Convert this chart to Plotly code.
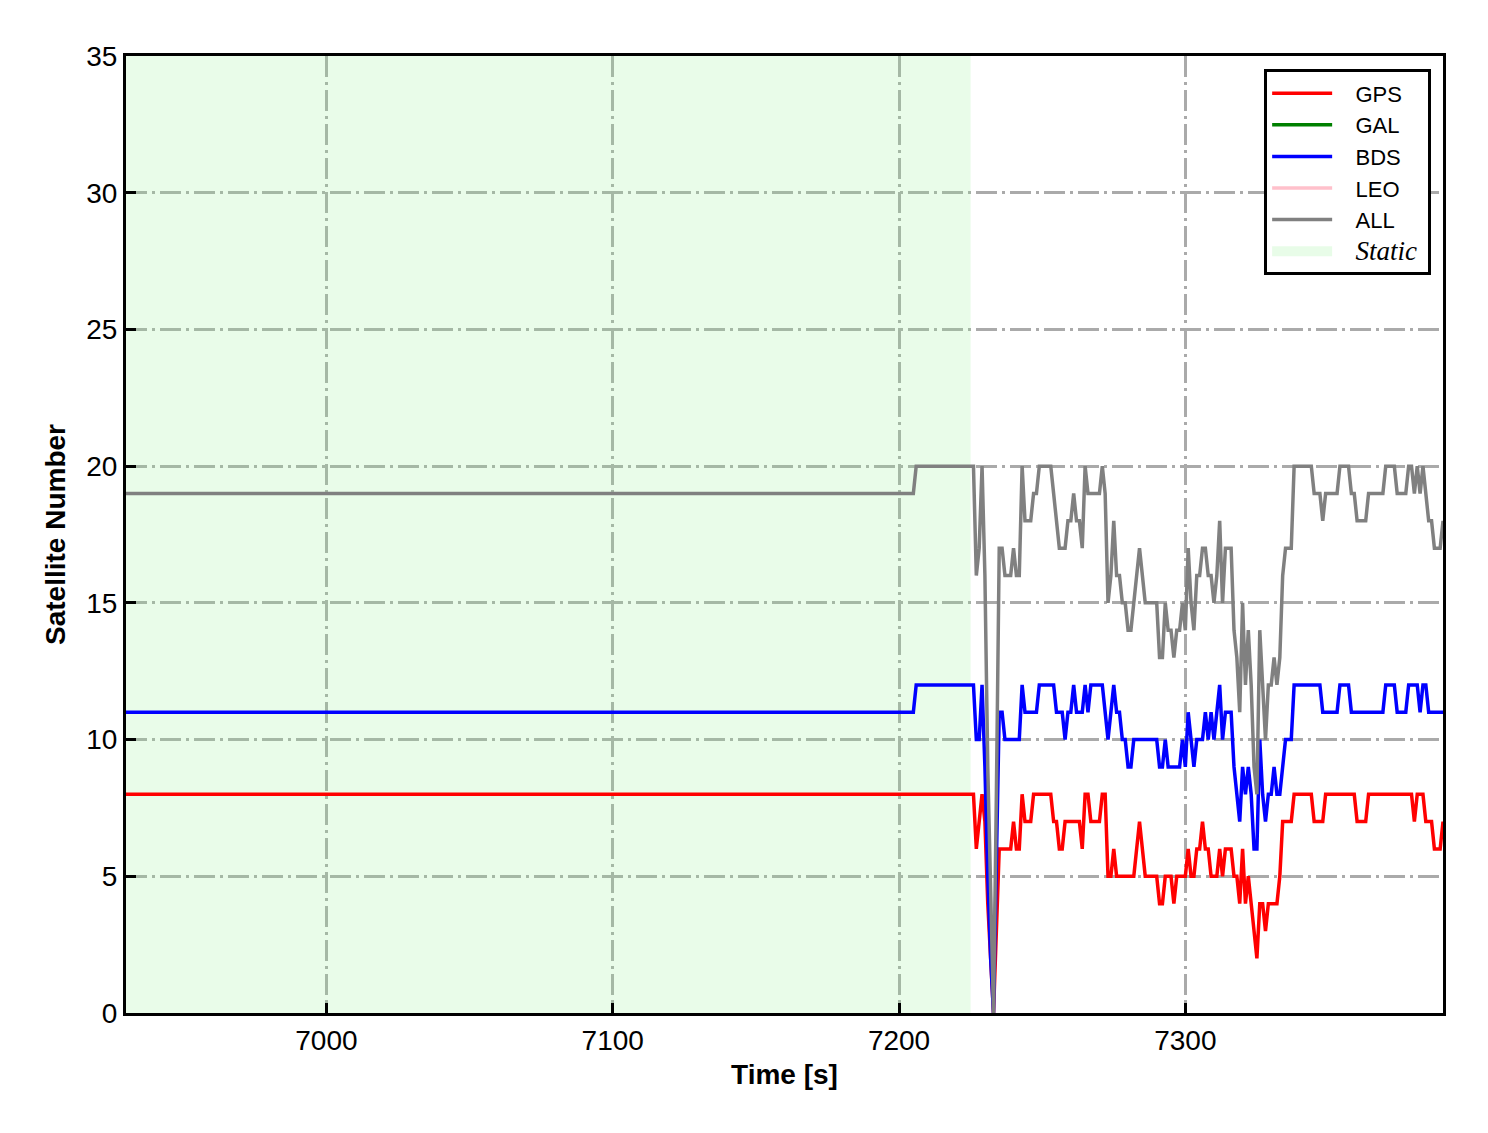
import plotly.graph_objects as go

# ---------------- data ----------------
time_s = [6930, 7205, 7206] + list(range(7220, 7391))

gps = [8, 8, 8,
       8, 8, 8, 8, 8, 8, 8, 6, 7, 8,          # 7220-7229
       7, 4, 2, 0, 3, 6, 6, 6, 6, 6,          # 7230
       7, 6, 6, 8, 7, 7, 7, 8, 8, 8,          # 7240
       8, 8, 8, 8, 7, 7, 6, 6, 7, 7,          # 7250
       7, 7, 7, 7, 6, 8, 8, 7, 7, 7,          # 7260
       7, 8, 8, 5, 5, 6, 5, 5, 5, 5,          # 7270
       5, 5, 5, 6, 7, 6, 5, 5, 5, 5,          # 7280
       5, 4, 4, 5, 5, 5, 4, 5, 5, 5,          # 7290
       5, 6, 5, 5, 6, 6, 7, 6, 6, 5,          # 7300
       5, 5, 6, 5, 6, 6, 6, 5, 5, 4,          # 7310
       6, 4, 5, 4, 3, 2, 4, 4, 3, 4,          # 7320
       4, 4, 4, 5, 7, 7, 7, 7, 8, 8,          # 7330
       8, 8, 8, 8, 8, 7, 7, 7, 7, 8,          # 7340
       8, 8, 8, 8, 8, 8, 8, 8, 8, 8,          # 7350
       7, 7, 7, 7, 8, 8, 8, 8, 8, 8,          # 7360
       8, 8, 8, 8, 8, 8, 8, 8, 8, 8,          # 7370
       7, 8, 8, 8, 7, 7, 7, 6, 6, 6,          # 7380
       7]                                      # 7390

bds = [11, 11, 12,
       12, 12, 12, 12, 12, 12, 12, 10, 10, 12,
       9, 5, 2, 0, 5, 11, 11, 10, 10, 10,
       10, 10, 10, 12, 11, 11, 11, 11, 11, 12,
       12, 12, 12, 12, 12, 11, 11, 11, 10, 11,
       11, 12, 11, 11, 11, 12, 11, 12, 12, 12,
       12, 12, 11, 10, 11, 12, 11, 11, 10, 10,
       9, 9, 10, 10, 10, 10, 10, 10, 10, 10,
       10, 9, 9, 10, 9, 9, 9, 9, 9, 10,
       9, 11, 10, 9, 10, 10, 10, 11, 10, 11,
       10, 11, 12, 10, 11, 11, 11, 9, 8, 7,
       9, 8, 9, 8, 6, 6, 10, 8, 7, 8,
       8, 9, 8, 8, 9, 10, 10, 10, 12, 12,
       12, 12, 12, 12, 12, 12, 12, 12, 11, 11,
       11, 11, 11, 11, 12, 12, 12, 12, 11, 11,
       11, 11, 11, 11, 11, 11, 11, 11, 11, 11,
       12, 12, 12, 12, 11, 11, 11, 11, 12, 12,
       12, 12, 11, 12, 12, 11, 11, 11, 11, 11,
       11]

all_sat = [19, 19, 20,
           20, 20, 20, 20, 20, 20, 20, 16, 17, 20,
           16, 9, 4, 0, 8, 17, 17, 16, 16, 16,
           17, 16, 16, 20, 18, 18, 18, 19, 19, 20,
           20, 20, 20, 20, 19, 18, 17, 17, 17, 18,
           18, 19, 18, 18, 17, 20, 19, 19, 19, 19,
           19, 20, 19, 15, 16, 18, 16, 16, 15, 15,
           14, 14, 15, 16, 17, 16, 15, 15, 15, 15,
           15, 13, 13, 15, 14, 14, 13, 14, 14, 15,
           14, 17, 15, 14, 16, 16, 17, 17, 16, 16,
           15, 16, 18, 15, 17, 17, 17, 14, 13, 11,
           15, 12, 14, 12, 9, 8, 14, 12, 10, 12,
           12, 13, 12, 13, 16, 17, 17, 17, 20, 20,
           20, 20, 20, 20, 20, 19, 19, 19, 18, 19,
           19, 19, 19, 19, 20, 20, 20, 20, 19, 19,
           18, 18, 18, 18, 19, 19, 19, 19, 19, 19,
           20, 20, 20, 20, 19, 19, 19, 19, 20, 20,
           19, 20, 19, 20, 19, 18, 18, 17, 17, 17,
           18]

# GAL and LEO contribute nothing visible in the chart (legend entries only)
gal_time = [None]
gal = [None]
leo_time = [None]
leo = [None]

static_span = [6930, 7225]
x_range = [6930, 7390]
y_range = [0, 35]
x_ticks = [7000, 7100, 7200, 7300]
y_ticks = [0, 5, 10, 15, 20, 25, 30, 35]

# ---------------- figure ----------------
FONT = "Liberation Sans, Arial, sans-serif"
SP = "&nbsp;&nbsp;&nbsp;"
STATIC_FILL = "rgba(144,238,144,0.2)"
fig = go.Figure()

# static shading
fig.add_trace(go.Scatter(
    x=[static_span[0], static_span[1], static_span[1], static_span[0], static_span[0]],
    y=[y_range[0], y_range[0], y_range[1], y_range[1], y_range[0]],
    fill="toself", fillcolor=STATIC_FILL, mode="lines",
    line=dict(width=0), hoverinfo="skip", showlegend=False))

series = [("GPS", time_s, gps, "#ff0000"),
          ("GAL", gal_time, gal, "#008000"),
          ("BDS", time_s, bds, "#0000ff"),
          ("LEO", leo_time, leo, "#ffc0cb"),
          ("ALL", time_s, all_sat, "#808080")]
for name, xs, ys, col in series:
    fig.add_trace(go.Scatter(x=xs, y=ys, mode="lines", name=SP + name,
                             line=dict(color=col, width=3.5)))

# legend patch for the static period
fig.add_trace(go.Scatter(
    x=[None], y=[None], mode="lines", line=dict(color="rgb(232,252,232)", width=16),
    name=SP + "<i><span style='font-family:Liberation Serif, Times New Roman, serif;font-size:27px'>Static</span></i>&nbsp;",
    hoverinfo="skip"))

axis_common = dict(showline=True, linecolor="black", linewidth=3, mirror=True,
                   ticks="inside", ticklen=10, tickwidth=2.5, tickcolor="black",
                   showgrid=True, gridcolor="#aaaaaa", gridwidth=2.5,
                   griddash="21px,5px,3px,5px", zeroline=False,
                   tickfont=dict(family=FONT, size=28, color="black"))

fig.update_xaxes(range=x_range, tickvals=x_ticks, **axis_common,
                 title=dict(text="<b>Time [s]</b>", font=dict(family=FONT, size=28, color="black"), standoff=10))
fig.update_yaxes(range=y_range, tickvals=y_ticks, **axis_common,
                 title=dict(text="<b>Satellite Number</b>", font=dict(family=FONT, size=28, color="black"), standoff=13))

fig.update_layout(
    width=1488, height=1133,
    margin=dict(l=118, r=53, t=48, b=128),
    plot_bgcolor="white", paper_bgcolor="white",
    font=dict(family=FONT, size=22, color="black"),
    legend=dict(x=0.991, y=0.986, xanchor="right", yanchor="top",
                bgcolor="white", bordercolor="black", borderwidth=3,
                font=dict(family=FONT, size=22, color="black"),
                itemwidth=60, tracegroupgap=0),
    showlegend=True,
)

fig.write_html("out.html")
